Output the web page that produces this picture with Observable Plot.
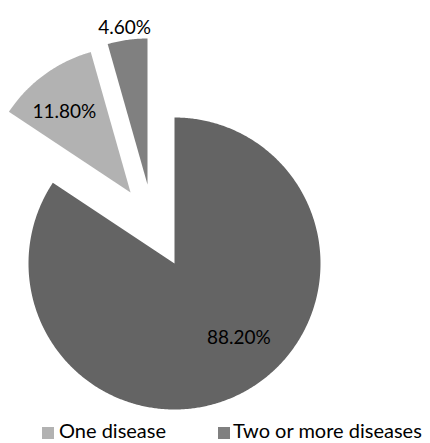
<!DOCTYPE html>
<html>
<head>
<meta charset="utf-8">
<script src="https://cdn.jsdelivr.net/npm/d3@7"></script>
<script src="https://cdn.jsdelivr.net/npm/@observablehq/plot@0.6"></script>
<style>
  body { margin: 0; background: #fff; font-family: Lato, "Open Sans", sans-serif; }
  #chart { position: relative; width: 430px; height: 443px; overflow: hidden; }
  .legend { position: absolute; left: 0; top: 416px; width: 430px; height: 27px; }
  .key { position: absolute; top: 11px; width: 12px; height: 12px; }
  .lab { position: absolute; top: 2px; font-size: 20px; line-height: 24px; color: #000; white-space: nowrap; }
</style>
</head>
<body>
<div id="chart"></div>
<script>
// Share of patients by number of diseases (percent labels as published)
const categories = ["No disease", "One disease", "Two or more diseases"];
const shares = [88.2, 11.8, 4.6];
const labels = ["88.20%", "11.80%", "4.60%"];
const legendCategories = ["One disease", "Two or more diseases"];

// Styling: slice colours, how far each slice is pulled out, and label placement
const colors = { "No disease": "#646464", "One disease": "#b2b2b2", "Two or more diseases": "#808080" };
const explode = { "No disease": [0, 0], "One disease": [-0.301, 0.486], "Two or more diseases": [-0.185, 0.541] };
const labelSpot = {
  "No disease": { r: 0.6, dx: 23, dy: -2.5 },
  "One disease": { r: 0.7, dx: -6, dy: 1.5 },
  "Two or more diseases": { r: 1.09, dx: -1, dy: 1 }
};

const table = categories.map((c, i) => ({ category: c, share: shares[i], label: labels[i] }));
const arcs = d3.pie().sort(null).value(d => d.share)(table);

// Each slice becomes a closed polygon in unit-circle coordinates (y up, clockwise from 12 o'clock)
const outline = arcs.flatMap(a => {
  const c = a.data.category;
  const [ox, oy] = explode[c];
  const n = Math.max(2, Math.ceil((a.endAngle - a.startAngle) / (Math.PI / 360)));
  const pts = [{ category: c, x: ox, y: oy }];
  for (let k = 0; k <= n; k++) {
    const t = a.startAngle + (a.endAngle - a.startAngle) * k / n;
    pts.push({ category: c, x: ox + Math.sin(t), y: oy + Math.cos(t) });
  }
  return pts;
});

const labelRows = arcs.map(a => {
  const c = a.data.category;
  const [ox, oy] = explode[c];
  const mid = (a.startAngle + a.endAngle) / 2;
  const s = labelSpot[c];
  return { category: c, label: a.data.label, x: ox + s.r * Math.sin(mid), y: oy + s.r * Math.cos(mid), dx: s.dx, dy: s.dy };
});

const chart = Plot.plot({
  width: 430,
  height: 416,
  margin: 0,
  style: { background: "#fff", overflow: "visible" },
  x: { domain: [-1, 1], range: [28, 320], axis: null },
  y: { domain: [-1, 1], range: [409, 117], axis: null },
  color: { domain: categories, range: categories.map(c => colors[c]) },
  marks: [
    Plot.line(outline, { x: "x", y: "y", z: "category", fill: "category", stroke: null, curve: "linear-closed" }),
    ...labelRows.map(d => Plot.text([d], {
      x: "x", y: "y", text: "label", dx: d.dx, dy: d.dy,
      fontSize: 19, fontFamily: "Lato, 'Open Sans', sans-serif", fill: "#000", textAnchor: "middle"
    }))
  ]
});

const root = document.getElementById("chart");
root.appendChild(chart);

// Legend for the two disease groups
const legend = document.createElement("div");
legend.className = "legend";
const keyLeft = [42, 218];
const labLeft = [59, 233];
legendCategories.forEach((c, i) => {
  const key = document.createElement("div");
  key.className = "key";
  key.style.left = keyLeft[i] + "px";
  key.style.background = colors[c];
  const lab = document.createElement("div");
  lab.className = "lab";
  lab.style.left = labLeft[i] + "px";
  lab.textContent = c;
  legend.appendChild(key);
  legend.appendChild(lab);
});
root.appendChild(legend);
</script>
</body>
</html>
